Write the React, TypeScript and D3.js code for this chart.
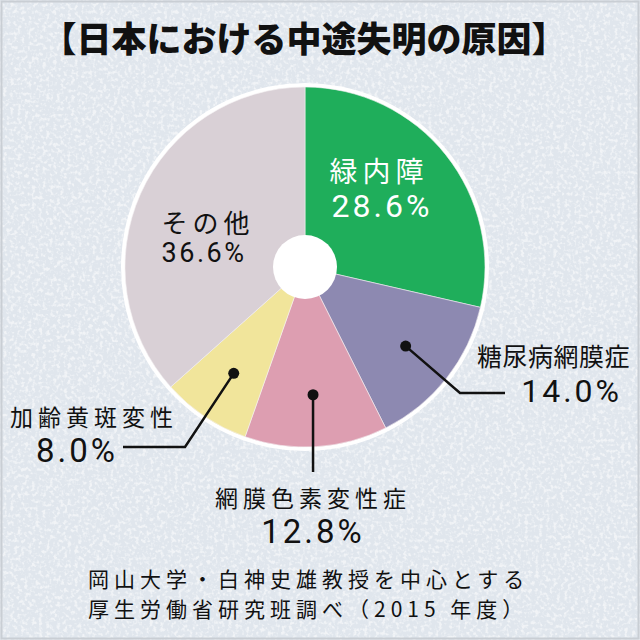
import React from "react";
import * as d3 from "d3";

const causes = ["緑内障", "糖尿病網膜症", "網膜色素変性症", "加齢黄斑変性", "その他"];
const shares = [28.6, 14.0, 12.8, 8.0, 36.6];
const colors = ["#1fae5b", "#8d89b1", "#dd9eb1", "#f1e59b", "#d9d0d6"];
const titleText = "【日本における中途失明の原因】";
const sourceLines = ["岡山大学・白神史雄教授を中心とする", "厚生労働省研究班調べ（2015 年度）"];

const W = 640, H = 640;
const cx = 305, cy = 267;
const R = 180, R0 = 32;
const FONT = "'Noto Sans CJK JP', 'Noto Sans', sans-serif";
const NUMFONT = "Roboto, 'Noto Sans', sans-serif";

export default function App() {
  const pie = d3.pie<number>().sort(null).value((d) => d);
  const arcs = pie(shares);
  const arc = d3.arc<d3.PieArcDatum<number>>().innerRadius(0).outerRadius(R);
  const fmt = (v: number) => d3.format(".1f")(v) + "%";

  const dot = (i: number) => {
    const a = arcs[i];
    const m = (a.startAngle + a.endAngle) / 2;
    const r = 128;
    return [cx + r * Math.sin(m), cy - r * Math.cos(m)];
  };
  const pPurple = dot(1), pPink = dot(2), pYellow = dot(3);

  const label = (
    i: number, x1: number, y1: number, fs1: number, ls1: number, anchor1: string,
    x2: number, y2: number, fs2: number, ls2: number, anchor2: string, fill: string
  ) => (
    <text fill={fill}>
      <tspan x={x1} y={y1} fontSize={fs1} letterSpacing={ls1} textAnchor={anchor1} fontFamily={FONT}>{causes[i]}</tspan>
      <tspan x={x2} y={y2} fontSize={fs2} letterSpacing={ls2} textAnchor={anchor2} fontFamily={NUMFONT}>{fmt(shares[i])}</tspan>
    </text>
  );

  return (
    <svg width={W} height={H} style={{ position: "absolute", left: 0, top: 0 }} fontFamily={FONT}>
      <defs>
        <filter id="speck" x="0" y="0" width="100%" height="100%">
          <feTurbulence type="fractalNoise" baseFrequency="0.28" numOctaves="2" seed="3" />
          <feColorMatrix type="matrix" values="0 0 0 0 1  0 0 0 0 1  0 0 0 0 1  4 0 0 0 -1.9" />
        </filter>
      </defs>
      <rect x={0} y={0} width={W} height={H} fill="#e0e6ed" />
      <rect x={0} y={0} width={W} height={H} filter="url(#speck)" opacity={0.55} />
      <rect x={1.5} y={1.5} width={W - 3} height={H - 3} fill="none" stroke="#c9ced4" strokeWidth={2} />

      <text x={304} y={52} textAnchor="middle" fontSize={35} fontWeight={900} fill="#111">{titleText}</text>

      <circle cx={cx} cy={cy} r={R + 4} fill="#ffffff" />
      <g transform={`translate(${cx},${cy})`}>
        {arcs.map((a, i) => (
          <path key={causes[i]} d={arc(a) || ""} fill={colors[i]} stroke="#f4f0f2" strokeWidth={0.6} />
        ))}
        <circle r={R0} fill="#ffffff" />
      </g>

      <g stroke="#111" strokeWidth={2.5} fill="none">
        <polyline points={`${pPurple[0]},${pPurple[1]} 460,393 505,393`} />
        <polyline points={`${pPink[0]},${pPink[1]} ${pPink[0]},472`} />
        <polyline points={`${pYellow[0]},${pYellow[1]} 185,447 123,447`} />
      </g>
      <g fill="#111">
        <circle cx={pPurple[0]} cy={pPurple[1]} r={5.5} />
        <circle cx={pPink[0]} cy={pPink[1]} r={5.5} />
        <circle cx={pYellow[0]} cy={pYellow[1]} r={5.5} />
      </g>

      {label(0, 379, 182, 28, 5, "middle", 382, 217, 32, 3, "middle", "#fff")}
      {label(4, 208, 233, 26, 5, "middle", 204, 262, 27, 2.5, "middle", "#111")}
      {label(1, 477, 366, 25, 0.5, "start", 622, 402, 32, 3, "end", "#111")}
      {label(2, 313, 507, 23, 5, "middle", 313, 543, 33, 3, "middle", "#111")}
      {label(3, 10, 426, 23, 5, "start", 118, 462, 33, 3, "end", "#111")}

      <text fill="#111" fontSize={21} letterSpacing={5}>
        {sourceLines.map((s, i) => (
          <tspan key={s} x={88} y={587 + i * 30}>{s}</tspan>
        ))}
      </text>
    </svg>
  );
}
